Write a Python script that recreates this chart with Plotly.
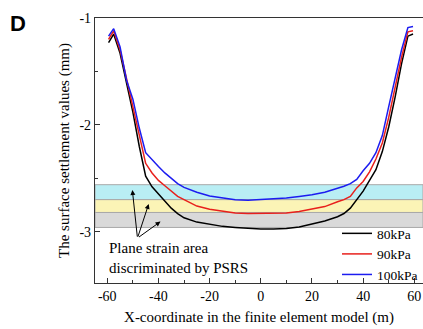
import plotly.graph_objects as go

x_m = [-59.5, -57.5, -55, -52.5, -50, -47.5, -45, -42.5, -40, -37.5, -35, -32.5, -30,
       -25, -20, -15, -10, -5, 0, 5, 10, 15, 20, 25, 30, 32.5, 35, 37.5, 40, 42.5,
       45, 47.5, 50, 52.5, 55, 57.5, 59.5]

s80 = [-1.23, -1.15, -1.33, -1.60, -1.88, -2.20, -2.48, -2.58, -2.65, -2.72, -2.78, -2.83, -2.87,
       -2.91, -2.93, -2.95, -2.96, -2.97, -2.975, -2.975, -2.97, -2.955, -2.93, -2.90, -2.86, -2.83,
       -2.78, -2.70, -2.62, -2.52, -2.42, -2.25, -2.02, -1.74, -1.43, -1.17, -1.15]
s90 = [-1.20, -1.12, -1.30, -1.56, -1.82, -2.10, -2.36, -2.45, -2.52, -2.57, -2.62, -2.67, -2.70,
       -2.76, -2.79, -2.81, -2.825, -2.83, -2.83, -2.83, -2.825, -2.81, -2.79, -2.765, -2.72, -2.70,
       -2.67, -2.59, -2.53, -2.44, -2.32, -2.17, -1.93, -1.65, -1.37, -1.13, -1.12]
s100 = [-1.17, -1.10, -1.27, -1.58, -1.76, -2.03, -2.26, -2.33, -2.39, -2.45, -2.50, -2.55, -2.585,
        -2.63, -2.665, -2.685, -2.70, -2.705, -2.70, -2.695, -2.685, -2.67, -2.655, -2.63, -2.595, -2.575,
        -2.55, -2.51, -2.43, -2.36, -2.26, -2.10, -1.83, -1.55, -1.30, -1.09, -1.08]

series_names = ["80kPa", "90kPa", "100kPa"]
series_values = [s80, s90, s100]
series_colors = ["#000000", "#e8201c", "#1c1cf0"]

band_top = [-2.56, -2.70, -2.82]
band_bottom = [-2.70, -2.82, -2.96]
band_colors = ["#b9eef4", "#fbf4b6", "#d9d9d9"]

arrow_tail = (-48.2, -3.06)
arrow_heads_x = [-50.2, -43.8, -39.2]
arrow_heads_y = [-2.61, -2.74, -2.905]

x_ticks = [-60, -40, -20, 0, 20, 40, 60]
y_ticks = [-3, -2, -1]

serif = "Liberation Serif, Times New Roman, serif"

fig = go.Figure()

for name, vals, col in zip(series_names, series_values, series_colors):
    fig.add_trace(go.Scatter(x=x_m, y=vals, mode="lines", name=name,
                             line=dict(color=col, width=1.5)))

for t, b, c in zip(band_top, band_bottom, band_colors):
    fig.add_shape(type="rect", xref="paper", yref="y", x0=0, x1=1, y0=b, y1=t,
                  fillcolor=c, line=dict(color="#a8a8a8", width=1), layer="below")

for hx, hy in zip(arrow_heads_x, arrow_heads_y):
    fig.add_annotation(x=hx, y=hy, ax=arrow_tail[0], ay=arrow_tail[1], axref="x", ayref="y",
                       xref="x", yref="y", text="", showarrow=True, arrowhead=2,
                       arrowsize=1, arrowwidth=1, arrowcolor="#000000")

fig.add_annotation(x=-60.3, y=-3.242, xref="x", yref="y", xanchor="left", yanchor="middle",
                   text="Plane strain area<br>discriminated by PSRS", showarrow=False, align="left",
                   font=dict(family=serif, size=15, color="#000000"))

fig.add_annotation(x=-0.235, y=0.981, xref="paper", yref="paper", xanchor="center", yanchor="middle",
                   text="<b>D</b>", showarrow=False,
                   font=dict(family="Liberation Sans, Arial, sans-serif", size=22, color="#000000"))

fig.update_layout(
    width=423, height=329,
    margin=dict(l=95, r=0, t=18, b=46, autoexpand=False),
    paper_bgcolor="white", plot_bgcolor="white",
    showlegend=True,
    legend=dict(x=1, y=0.245, xanchor="right", yanchor="top", bgcolor="rgba(0,0,0,0)",
                font=dict(family=serif, size=13.5, color="#000000"), itemwidth=30,
                tracegroupgap=0),
    xaxis=dict(range=[-64.8, 63.4], tickvals=x_ticks, ticktext=[str(v) for v in x_ticks],
               ticks="inside", ticklen=5, tickwidth=1, tickcolor="#333",
               minor=dict(dtick=10, tick0=0, ticks="inside", ticklen=3, tickcolor="#333"),
               showline=True, linecolor="#333", linewidth=1.2, mirror=True,
               showgrid=False, zeroline=False,
               tickfont=dict(family=serif, size=14, color="#000"),
               title=dict(text="X-coordinate in the finite element model (m)",
                          font=dict(family=serif, size=15, color="#000"), standoff=8)),
    yaxis=dict(range=[-3.48, -1], tickvals=y_ticks, ticktext=[str(v) for v in y_ticks],
               ticks="inside", ticklen=5, tickwidth=1, tickcolor="#333",
               minor=dict(dtick=0.5, tick0=-1, ticks="inside", ticklen=3, tickcolor="#333"),
               showline=True, linecolor="#333", linewidth=1.2, mirror=False,
               showgrid=False, zeroline=False,
               tickfont=dict(family=serif, size=14, color="#000"),
               title=dict(text="The surface settlement values (mm)",
                          font=dict(family=serif, size=15, color="#000"), standoff=6)),
)

fig.write_html("out.html", config={"displayModeBar": False},
               post_script="document.body.style.margin='0px';document.body.style.overflow='hidden';")
